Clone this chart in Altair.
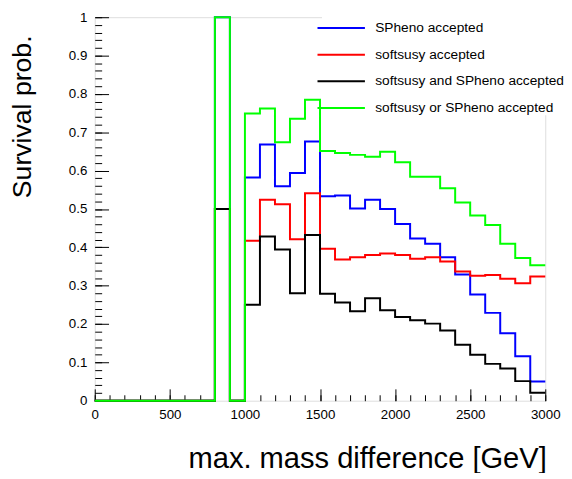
import altair as alt
import pandas as pd

# ---- data ----
bin_low = list(range(0, 3000, 100))   # lower bin edges, 100 GeV bins
x_max = 3000

series_names = [
    "SPheno accepted",
    "softsusy accepted",
    "softsusy and SPheno accepted",
    "softsusy or SPheno accepted",
]
series_colors = ["#0000ff", "#ff0000", "#000000", "#00ff00"]

spheno = [0, 0, 0, 0, 0, 0, 0, 0, 1.0, 0.0,
          0.582, 0.668, 0.559, 0.594, 0.676, 0.533, 0.535, 0.501, 0.524, 0.500,
          0.461, 0.423, 0.409, 0.374, 0.329, 0.277, 0.229, 0.176, 0.116, 0.050]
softsusy = [0, 0, 0, 0, 0, 0, 0, 0, 0.5, 0.0,
            0.417, 0.524, 0.512, 0.421, 0.541, 0.396, 0.368, 0.374, 0.380, 0.384,
            0.380, 0.370, 0.374, 0.363, 0.337, 0.326, 0.328, 0.318, 0.306, 0.324]
both = [0, 0, 0, 0, 0, 0, 0, 0, 0.5, 0.0,
        0.250, 0.428, 0.394, 0.280, 0.432, 0.279, 0.256, 0.233, 0.267, 0.236,
        0.218, 0.210, 0.201, 0.183, 0.146, 0.120, 0.096, 0.084, 0.051, 0.021]
either = [0, 0, 0, 0, 0, 0, 0, 0, 1.0, 0.0,
          0.749, 0.762, 0.674, 0.735, 0.785, 0.651, 0.646, 0.641, 0.636, 0.649,
          0.622, 0.584, 0.584, 0.554, 0.517, 0.483, 0.458, 0.409, 0.372, 0.353]

x_major = [0, 500, 1000, 1500, 2000, 2500, 3000]
x_minor = list(range(0, 3001, 100))
y_major = [0, 0.1, 0.2, 0.3, 0.4, 0.5, 0.6, 0.7, 0.8, 0.9, 1]
y_minor = [i / 50 for i in range(51)]

rows = []
for name, vals in zip(series_names, [spheno, softsusy, both, either]):
    for x, v in zip(bin_low, vals):
        rows.append({"series": name, "x": x, "p": v})
    rows.append({"series": name, "x": x_max, "p": vals[-1]})
df = pd.DataFrame(rows)

FONT = "Liberation Sans"

xscale = alt.Scale(domain=[0, 3000], nice=False, zero=False)
yscale = alt.Scale(domain=[0, 1], nice=False)

lines = alt.Chart(df).mark_line(interpolate="step-after", strokeWidth=2).encode(
    x=alt.X("x:Q", scale=xscale, axis=alt.Axis(
        orient="bottom", values=x_major, format="d", offset=-12, tickSize=12,
        domain=False, grid=False, tickColor="black", labelColor="black",
        labelFont=FONT, labelFontSize=13.5, labelPadding=7, labelFlush=False,
        labelOverlap=False,
        title="max. mass difference [GeV]", titleFont=FONT, titleFontSize=29.5,
        titleFontWeight="normal", titleColor="black", titleAlign="right",
        titleBaseline="alphabetic", titleX=458, titleY=80)),
    y=alt.Y("p:Q", scale=yscale, axis=alt.Axis(
        orient="left", values=y_major, format="~g", offset=-14, tickSize=14,
        domain=False, grid=False, tickColor="black", labelColor="black",
        labelFont=FONT, labelFontSize=13.5, labelPadding=8, labelFlush=False,
        labelOverlap=False,
        title="Survival prob.", titleFont=FONT, titleFontSize=27,
        titleFontWeight="normal", titleColor="black", titleAngle=270,
        titleAlign="right", titleBaseline="alphabetic", titleX=-79, titleY=18)),
    color=alt.Color("series:N", scale=alt.Scale(domain=series_names, range=series_colors),
                    legend=alt.Legend(
                        title=None, orient="none", legendX=230.5, legendY=-8.5,
                        symbolType="M-1.3,0H1.3", symbolSize=1369, symbolStrokeWidth=2,
                        labelFont=FONT, labelFontSize=13.9, labelColor="black",
                        labelOffset=15, labelLimit=400, rowPadding=0, padding=0,
                        fillColor="white")),
)

minor = alt.Chart(df).mark_line(interpolate="step-after", opacity=0).encode(
    x=alt.X("x:Q", scale=xscale, axis=alt.Axis(
        orient="bottom", values=x_minor, offset=-6, tickSize=6, domain=False,
        grid=False, labels=False, tickColor="black", title="")),
    y=alt.Y("p:Q", scale=yscale, axis=alt.Axis(
        orient="left", values=y_minor, offset=-7, tickSize=7, domain=False,
        grid=False, labels=False, tickColor="black", title="")),
    detail="series:N",
)

chart = alt.layer(minor, lines).resolve_axis(x="independent", y="independent").properties(
    width=457, height=389,
    padding={"left": 88, "top": 6, "right": 19, "bottom": 70},
    autosize=alt.AutoSizeParams(type="none"),
).configure_view(stroke="black", strokeWidth=1).configure(background="white")

chart.save("out.html", embed_options={"renderer": "svg", "actions": False})
